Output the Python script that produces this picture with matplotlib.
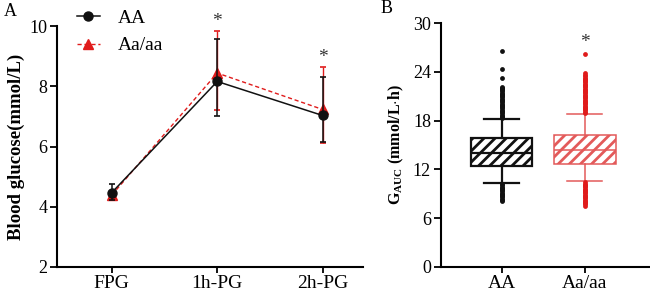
import matplotlib
matplotlib.use("Agg")
import matplotlib.pyplot as plt
from matplotlib.lines import Line2D

plt.rcParams['font.family'] = ['Liberation Serif', 'DejaVu Serif']
plt.rcParams['mathtext.fontset'] = 'custom'
plt.rcParams['mathtext.rm'] = 'Liberation Serif'
plt.rcParams['mathtext.bf'] = 'Liberation Serif:bold'
plt.rcParams['hatch.linewidth'] = 2.0

# ---- Panel A data ----
timepoints = ['FPG', '1h-PG', '2h-PG']
aa_mean = [4.47, 8.16, 7.03]
aa_low = [4.23, 7.00, 6.15]
aa_high = [4.74, 9.58, 8.30]
aaaa_mean = [4.39, 8.44, 7.23]
aaaa_low = [4.28, 7.21, 6.12]
aaaa_high = [4.52, 9.83, 8.64]
stars_A_x = [1, 2]
stars_A_y = [10.15, 8.95]

# ---- Panel B data ----
groups_B = ['AA', 'Aa/aa']
box_q1 = [12.45, 12.7]
box_med = [14.0, 14.35]
box_q3 = [15.9, 16.25]
whisk_lo = [10.35, 10.55]
whisk_hi = [18.2, 18.8]
aa_fliers = [26.6, 24.4, 23.2, 22.2, 22.05, 21.9, 21.75, 21.6, 21.45, 21.3, 21.15, 21.0,
             20.85, 20.7, 20.55, 20.4, 20.25, 20.1, 19.95, 19.8, 19.65, 19.5, 19.35, 19.2,
             19.05, 18.9, 18.75, 18.6, 18.45, 18.3,
             10.2, 10.05, 9.9, 9.75, 9.6, 9.45, 9.3, 9.15, 9.0, 8.85, 8.7, 8.55, 8.4, 8.25, 8.15]
aaaa_fliers = [26.2, 23.9, 23.6, 23.45, 23.3, 23.15, 23.0, 22.85, 22.7, 22.55, 22.4, 22.25,
               22.1, 21.95, 21.8, 21.65, 21.5, 21.35, 21.2, 21.05, 20.9, 20.75, 20.6, 20.45,
               20.3, 20.15, 20.0, 19.85, 19.7, 19.55, 19.4, 19.25, 19.1, 18.95,
               10.4, 10.25, 10.1, 9.95, 9.8, 9.65, 9.5, 9.35, 9.2, 9.05, 8.9, 8.75, 8.6,
               8.45, 8.3, 8.15, 8.0, 7.85, 7.7, 7.55]
star_B_x = [1]
star_B_y = [27.6]

black = '#111111'
red = '#e01b1b'
red_box = '#e35a5a'

fig = plt.figure(figsize=(6.5, 2.96), dpi=100)

# ---------------- Panel A ----------------
axA = fig.add_axes([0.0877, 0.098, 0.4703, 0.814])
x = list(range(len(timepoints)))
yerr_r = [[m - l for m, l in zip(aaaa_mean, aaaa_low)], [h - m for m, h in zip(aaaa_mean, aaaa_high)]]
yerr_b = [[m - l for m, l in zip(aa_mean, aa_low)], [h - m for m, h in zip(aa_mean, aa_high)]]
axA.errorbar(x, aaaa_mean, yerr=yerr_r, color=red, ls=(0, (3, 2)), lw=1.0,
             marker='^', ms=7.5, capsize=2.5, elinewidth=1.0, capthick=1.2, zorder=3)
axA.errorbar(x, aa_mean, yerr=yerr_b, color=black, ls='-', lw=1.1,
             marker='o', ms=6.5, capsize=2.5, elinewidth=1.1, capthick=1.2, zorder=4)
for sx, sy in zip(stars_A_x, stars_A_y):
    axA.text(sx, sy, '*', ha='center', va='center', fontsize=14, color='#333333',
             clip_on=False)
axA.set_xlim(-0.52, 2.38)
axA.set_ylim(2, 10)
axA.set_yticks([2, 4, 6, 8, 10])
axA.set_xticks(x)
axA.set_xticklabels(timepoints)
axA.set_ylabel('Blood glucose(mmol/L)', fontsize=13.5, fontweight='bold', labelpad=3)
for s in ['top', 'right']:
    axA.spines[s].set_visible(False)
for s in ['left', 'bottom']:
    axA.spines[s].set_linewidth(1.5)
axA.tick_params(axis='y', labelsize=13, width=1.3, length=5, pad=2)
axA.tick_params(axis='x', labelsize=14, width=1.3, length=4, pad=2)
handles = [Line2D([], [], color=black, ls='-', lw=1.1, marker='o', ms=6.5),
           Line2D([], [], color=red, ls=(0, (3, 2)), lw=1.0, marker='^', ms=7.5)]
axA.legend(handles, ['AA', 'Aa/aa'], loc='upper left', bbox_to_anchor=(0.118, 0.968),
           bbox_transform=fig.transFigure, borderaxespad=0, borderpad=0,
           frameon=False, fontsize=14, handlelength=1.2, handletextpad=0.9,
           labelspacing=0.5)
fig.text(0.006, 0.962, 'A', fontsize=13, ha='left', va='center')

# ---------------- Panel B ----------------
axB = fig.add_axes([0.678, 0.098, 0.322, 0.824])
stats = []
fl = [aa_fliers, aaaa_fliers]
for i in range(2):
    stats.append(dict(med=box_med[i], q1=box_q1[i], q3=box_q3[i],
                      whislo=whisk_lo[i], whishi=whisk_hi[i], fliers=[], label=groups_B[i]))
cols_edge = [black, red_box]
cols_fl = [black, red]
lws = [1.6, 1.1]
for i in range(2):
    axB.bxp([stats[i]], positions=[i], widths=0.74, patch_artist=True, showfliers=False,
            boxprops=dict(facecolor='white', edgecolor=cols_edge[i], hatch='///', lw=lws[i]),
            medianprops=dict(color=cols_edge[i], lw=lws[i]),
            whiskerprops=dict(color=cols_edge[i], lw=lws[i]),
            capprops=dict(color=cols_edge[i], lw=lws[i]),
            capwidths=0.42, manage_ticks=False)
    axB.scatter([i] * len(fl[i]), fl[i], s=12, color=cols_fl[i], zorder=3, linewidths=0)
for sx, sy in zip(star_B_x, star_B_y):
    axB.text(sx, sy, '*', ha='center', va='center', fontsize=14, color='#333333')
axB.set_xlim(-0.73, 1.78)
axB.set_ylim(0, 30)
axB.set_yticks([0, 6, 12, 18, 24, 30])
axB.set_xticks([0, 1])
axB.set_xticklabels(groups_B)
axB.set_ylabel(r'$\mathbf{G}_{\mathbf{AUC}}$ (mmol/L$\cdot$h)', fontsize=11.5,
               fontweight='bold', labelpad=5)
for s in ['top', 'right']:
    axB.spines[s].set_visible(False)
for s in ['left', 'bottom']:
    axB.spines[s].set_linewidth(1.5)
axB.tick_params(axis='y', labelsize=13, width=1.3, length=5, pad=2)
axB.tick_params(axis='x', labelsize=14, width=1.3, length=4, pad=2)
fig.text(0.585, 0.972, 'B', fontsize=13, ha='left', va='center')

fig.savefig('out.png', dpi=100)
